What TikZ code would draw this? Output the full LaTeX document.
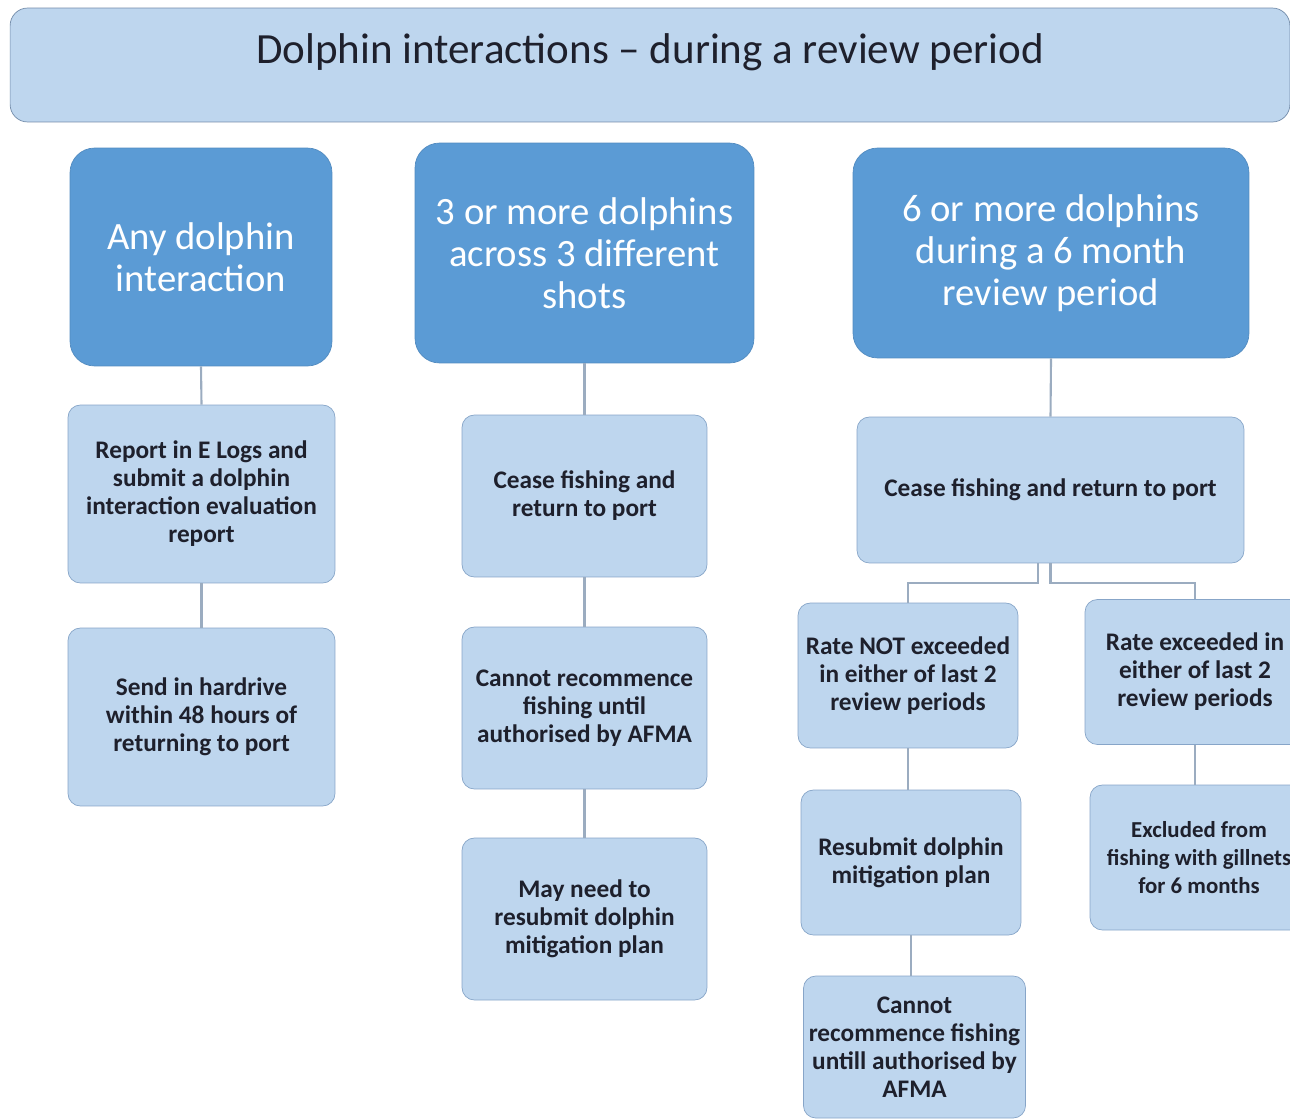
\documentclass[tikz,border=0pt]{standalone}
\usepackage{fontspec}
\setmainfont{Carlito}
\usetikzlibrary{positioning}
\definecolor{dhead}{RGB}{91, 155, 213}
\definecolor{dbox}{RGB}{190, 214, 238}
\definecolor{dedge}{RGB}{135, 165, 200}
\definecolor{dline}{RGB}{155, 172, 192}
\definecolor{dtext}{RGB}{30, 32, 44}

\begin{document}
\begin{tikzpicture}[x=0.02cm, y=-0.02cm,
  every node/.style={inner sep=3pt},
  titlebox/.style={rectangle, rounded corners=10pt, draw=dedge!85!black, fill=dbox,
                   font=\fontsize{24.5}{28}\selectfont, text=dtext,
                   minimum width=25.6cm, inner sep=0pt,
                   text height=1.1cm, text depth=1.18cm},
  head/.style={rectangle, rounded corners=14pt, draw=dhead!90!black, fill=dhead,
               text=white, font=\fontsize{22}{24}\selectfont, align=center},
  stepbox/.style={rectangle, rounded corners=7pt, draw=dedge, fill=dbox,
                  text=dtext, font=\bfseries\fontsize{14.4}{15.9}\selectfont, align=center},
  link/.style={draw=dline, line width=1.2pt}
]
\useasboundingbox (0,0) rectangle (1290,1119);

% Title
\node[titlebox] (title) at (650,65) {Dolphin interactions -- during a review period};

% Headings
\node[head, minimum width=5.24cm, minimum height=4.36cm] (anyh) at (201,257)
  {Any dolphin\\interaction};
\node[head, minimum width=6.78cm, minimum height=4.4cm] (threeh) at (584.5,253)
  {3 or more dolphins\\across 3 different\\shots};
\node[head, minimum width=7.92cm, minimum height=4.2cm] (sixh) at (1051,253)
  {6 or more dolphins\\during a 6 month\\review period};

% Any interaction
\node[stepbox, minimum width=5.34cm, minimum height=3.56cm] (report) at (201.5,494)
  {Report in E Logs and\\submit a dolphin\\interaction evaluation\\report};
\node[stepbox, minimum width=5.34cm, minimum height=3.56cm] (hdrive) at (201.5,717)
  {Send in hardrive\\within 48 hours of\\returning to port};

% 3 or more
\node[stepbox, minimum width=4.9cm, minimum height=3.24cm] (ceasea) at (584.5,496)
  {Cease fishing and\\return to port};
\node[stepbox, minimum width=4.9cm, minimum height=3.24cm] (norecom) at (584.5,708)
  {Cannot recommence\\fishing until\\authorised by AFMA};
\node[stepbox, minimum width=4.9cm, minimum height=3.24cm] (mayplan) at (584.5,919)
  {May need to\\resubmit dolphin\\mitigation plan};

% 6 or more
\node[stepbox, minimum width=7.74cm, minimum height=2.92cm] (ceaseb) at (1050.5,490)
  {Cease fishing and return to port};
\node[stepbox, minimum width=4.4cm, minimum height=2.9cm] (notexc) at (908,675.5)
  {Rate NOT exceeded\\in either of last 2\\review periods};
\node[stepbox, minimum width=4.4cm, minimum height=2.9cm] (replan) at (911,862.5)
  {Resubmit dolphin\\mitigation plan};
\node[stepbox, minimum width=4.38cm, minimum height=2.84cm] (untill) at (914.5,1047)
  {Cannot\\recommence fishing\\untill authorised by\\AFMA};
\node[stepbox, minimum width=4.4cm, minimum height=2.9cm] (exc) at (1195,672)
  {Rate exceeded in\\either of last 2\\review periods};
\node[stepbox, minimum width=4.36cm, minimum height=2.9cm,
      font=\bfseries\fontsize{13}{15.9}\selectfont] (excluded) at (1199,857.5)
  {Excluded from\\fishing with gillnets\\for 6 months};

% Connectors
\draw[link] (anyh.south) -- (report.north);
\draw[link] (report.south) -- (hdrive.north);
\draw[link] (threeh.south) -- (ceasea.north);
\draw[link] (ceasea.south) -- (norecom.north);
\draw[link] (norecom.south) -- (mayplan.north);
\draw[link] (sixh.south) -- (ceaseb.north);
\draw[link] ([xshift=-0.25cm]ceaseb.south) -- ++(0,-0.4cm) -| (notexc.north);
\draw[link] (ceaseb.south) -- ++(0,-0.4cm) -| (exc.north);
\draw[link] (notexc.south) -- (notexc.south |- replan.north);
\draw[link] (replan.south) -- (replan.south |- untill.north);
\draw[link] (exc.south) -- (exc.south |- excluded.north);

\end{tikzpicture}
\end{document}
